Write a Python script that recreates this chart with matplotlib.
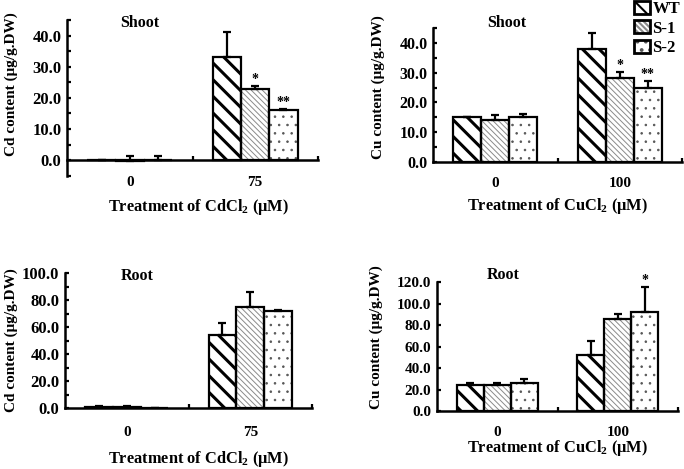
import matplotlib
matplotlib.use("Agg")
import matplotlib.pyplot as plt
import matplotlib.transforms as mtransforms
from matplotlib.patches import Patch
from matplotlib.legend_handler import HandlerTuple
from matplotlib.ticker import MultipleLocator
import numpy as np

plt.rcParams["font.family"] = ["Liberation Serif", "DejaVu Serif"]
plt.rcParams["font.weight"] = "bold"
plt.rcParams["mathtext.fontset"] = "custom"
plt.rcParams["mathtext.rm"] = "Liberation Serif:bold"
plt.rcParams["mathtext.bf"] = "Liberation Serif:bold"

# ---- data ----
series = ["WT", "S-1", "S-2"]
cd_groups = ["0", "75"]
cu_groups = ["0", "100"]

cd_shoot = [[0.0, 33.3], [-0.3, 22.8], [0.0, 16.1]]
cd_shoot_err = [[0.0, 8.1], [1.7, 1.2], [1.4, 0.5]]
cd_shoot_sig = [["", ""], ["", "*"], ["", "**"]]

cu_shoot = [[15.0, 38.0], [14.2, 28.2], [15.2, 25.0]]
cu_shoot_err = [[0.2, 5.3], [1.6, 2.0], [1.0, 2.3]]
cu_shoot_sig = [["", ""], ["", "*"], ["", "**"]]

cd_root = [[0.5, 53.8], [0.5, 75.0], [0.3, 72.0]]
cd_root_err = [[0.8, 9.3], [0.8, 11.0], [0.0, 0.6]]
cd_root_sig = [["", ""], ["", ""], ["", ""]]

cu_root = [[24.0, 52.5], [24.2, 86.0], [26.0, 92.0]]
cu_root_err = [[2.0, 12.5], [2.0, 4.5], [4.0, 23.0]]
cu_root_sig = [["", ""], ["", ""], ["", "*"]]

# bar styles: (hatch, hatch colour, hatch linewidth)
styles = [("\\\\", "black", 2.2), ("\\\\\\\\\\\\", "#8a8a8a", 0.7), ("..", "#555555", 0.6)]

W, H = 684, 469


def fx(x):
    return x / W


def fy(y):
    return 1 - y / H


def box(l, t, r, b):
    return [fx(l), fy(b), (r - l) / W, (b - t) / H]


def hatched(ax, pos, vals, width, i):
    hatch, hc, hlw = styles[i]
    with plt.rc_context({"hatch.linewidth": hlw}):
        hb = ax.bar(pos, vals, width, color="white", edgecolor=hc,
                    hatch=hatch, linewidth=0, zorder=2)
        for p in hb:
            if hasattr(p, "set_hatch_linewidth"):
                p.set_hatch_linewidth(hlw)


def draw_bars(ax, vals, errs, sig, groups, ylim, major, minor, label_pad, tsize):
    x = np.arange(len(groups))
    width = 0.225
    for i in range(len(series)):
        pos = x + (i - 1) * width
        hatched(ax, pos, vals[i], width, i)
        ax.bar(pos, vals[i], width, color="none", edgecolor="black",
               linewidth=1.6, zorder=3)
        ax.errorbar(pos, vals[i], yerr=[np.zeros(len(groups)), errs[i]],
                    fmt="none", ecolor="black", elinewidth=1.6, capsize=3,
                    capthick=1.6, zorder=4)
        for j in range(len(groups)):
            if sig[i][j]:
                ax.text(pos[j], vals[i][j] + errs[i][j], sig[i][j],
                        ha="center", va="bottom", fontsize=10, zorder=5)
    ax.set_xlim(-0.5, len(groups) - 0.5)
    ax.set_ylim(*ylim)
    ax.spines["top"].set_visible(False)
    ax.spines["right"].set_visible(False)
    ax.spines["bottom"].set_position(("data", 0))
    ax.spines["left"].set_linewidth(1.8)
    ax.spines["bottom"].set_linewidth(1.8)
    ax.yaxis.set_major_locator(MultipleLocator(major))
    ax.yaxis.set_minor_locator(MultipleLocator(minor))
    ax.yaxis.set_major_formatter(lambda v, p: "%.1f" % v if v >= 0 else "")
    ax.tick_params(axis="y", which="both", direction="in", length=3,
                   width=1.6, labelsize=tsize, pad=4)
    ax.set_xticks(np.arange(len(groups)) + 0.5)
    ax.set_xticklabels([])
    ax.tick_params(axis="x", direction="in", length=3, width=1.6)
    trans = mtransforms.blended_transform_factory(ax.transData, ax.transAxes)
    for j, g in enumerate(groups):
        ax.annotate(g, xy=(x[j], 0), xycoords=trans, xytext=(0, -label_pad * 0.72),
                    textcoords="offset points", ha="center", va="center",
                    fontsize=11)


fig = plt.figure(figsize=(W / 100, H / 100), dpi=100)

ax1 = fig.add_axes(box(67, 20.5, 318, 175.5))
draw_bars(ax1, cd_shoot, cd_shoot_err, cd_shoot_sig, cd_groups, (-5, 45), 10, 5, 7, 12)
ax2 = fig.add_axes(box(433, 28, 682, 162))
draw_bars(ax2, cu_shoot, cu_shoot_err, cu_shoot_sig, cu_groups, (0, 45), 10, 5, 21, 11.5)
ax3 = fig.add_axes(box(65, 273, 312, 408))
draw_bars(ax3, cd_root, cd_root_err, cd_root_sig, cd_groups, (0, 100), 20, 10, 24, 12)
ax4 = fig.add_axes(box(437, 282, 678, 411))
draw_bars(ax4, cu_root, cu_root_err, cu_root_sig, cu_groups, (0, 120), 20, 20, 21, 11)

# panel titles
fig.text(fx(140), fy(23), "Shoot", ha="center", va="center", fontsize=11.5)
fig.text(fx(507), fy(23), "Shoot", ha="center", va="center", fontsize=11.5)
fig.text(fx(137), fy(276), "Root", ha="center", va="center", fontsize=11.5)
fig.text(fx(503), fy(275), "Root", ha="center", va="center", fontsize=11.5)

# axis labels
xl_cd = "Treatment of CdCl$_{\\mathbf{2}}$ (\u03bcM)"
xl_cu = "Treatment of CuCl$_{\\mathbf{2}}$ (\u03bcM)"
fig.text(fx(198), fy(211), xl_cd, ha="center", va="baseline", fontsize=11.8)
fig.text(fx(557), fy(210), xl_cu, ha="center", va="baseline", fontsize=11.8)
fig.text(fx(198), fy(463), xl_cd, ha="center", va="baseline", fontsize=11.8)
fig.text(fx(557), fy(452), xl_cu, ha="center", va="baseline", fontsize=11.8)

fig.text(fx(11), fy(84), "Cd content (\u03bcg/g.DW)", rotation=90, ha="center", va="center", fontsize=11)
fig.text(fx(378), fy(87), "Cu content (\u03bcg/g.DW)", rotation=90, ha="center", va="center", fontsize=11)
fig.text(fx(11), fy(340), "Cd content (\u03bcg/g.DW)", rotation=90, ha="center", va="center", fontsize=11)
fig.text(fx(376), fy(337), "Cu content (\u03bcg/g.DW)", rotation=90, ha="center", va="center", fontsize=11)

# legend: hatch layer + black outline per entry
handles = []
for i, name in enumerate(series):
    hatch, hc, hlw = styles[i]
    handles.append((Patch(facecolor="white", edgecolor=hc, hatch=hatch, linewidth=0),
                    Patch(facecolor="none", edgecolor="black", linewidth=2.0)))
with plt.rc_context({"hatch.linewidth": 1.5}):
    fig.legend(handles=handles, labels=series, loc="upper left",
               bbox_to_anchor=(fx(634), fy(1)),
               handler_map={tuple: HandlerTuple(ndivide=1, pad=0)},
               frameon=False, handlelength=0.95, handleheight=0.8, labelspacing=0.2,
               handletextpad=0.15, borderpad=0, borderaxespad=0,
               prop={"size": 12, "weight": "bold"})

fig.savefig("out.png", dpi=100)
